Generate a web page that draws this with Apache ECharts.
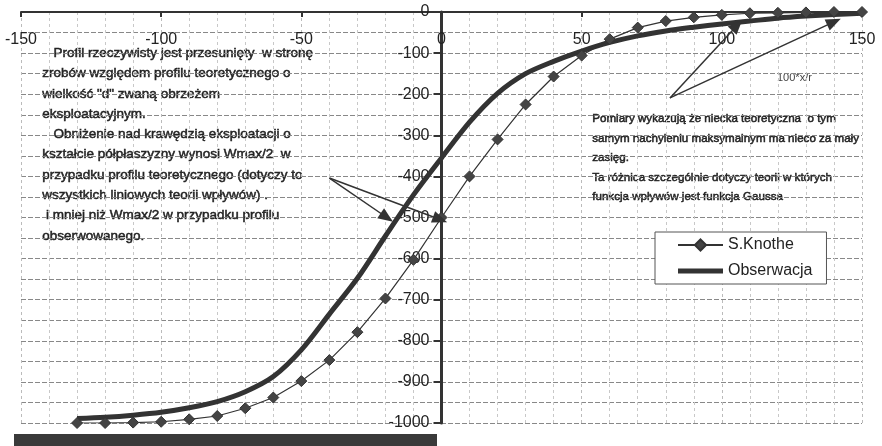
<!DOCTYPE html>
<html>
<head>
<meta charset="utf-8">
<script src="https://cdn.jsdelivr.net/npm/echarts@6/dist/echarts.min.js"></script>
<style>
html, body { margin: 0; padding: 0; background: #fff; }
#chart { width: 882px; height: 446px; }
</style>
</head>
<body>
<div id="chart"></div>
<script>
// x = 100*x/r
var xValues = [-130, -120, -110, -100, -90, -80, -70, -60, -50, -40, -30, -20, -10, 0,
  10, 20, 30, 40, 50, 60, 70, 80, 90, 100, 110, 120, 130, 140, 150]
var knotheValues = [-1000, -1000, -999, -997, -991, -983, -964, -938, -898, -847, -779, -697, -603, -500,
  -400, -310, -225, -157, -106, -66, -38, -22, -13, -7, -3, -2, -1, 0, 0]
var obsValues = [-989, -986, -981, -974, -963, -948, -924, -887, -822, -735, -648, -545, -445, -355,
  -268, -198, -150, -120, -95, -74, -58, -46, -37, -29, -22, -15, -10, -6, -3]

var seriesNames = ['S.Knothe', 'Obserwacja']

// arrows: [from, to] in data units
var arrows = [
  [[-40, -404], [-19.5, -500]],
  [[-40, -404], [-0.5, -505]],
  [[81.5, -209], [105.5, -32]],
  [[81.5, -209], [140, -24]]
]

var leftNote = [
  '   Profil rzeczywisty jest przesunięty  w stronę',
  'zrobów względem profilu teoretycznego o',
  'wielkość "d" zwaną obrzeżem',
  'eksploatacyjnym.',
  '   Obniżenie nad krawędzią eksploatacji o',
  'kształcie półpłaszyzny wynosi Wmax/2  w',
  'przypadku profilu teoretycznego (dotyczy to',
  'wszystkich liniowych teorii wpływów) .',
  ' i mniej niż Wmax/2 w przypadku profilu',
  'obserwowanego.'
]
var rightNote = [
  'Pomiary wykazują że niecka teoretyczna  o tym',
  'samym nachyleniu maksymalnym ma nieco za mały',
  'zasięg.',
  'Ta różnica szczególnie dotyczy teorii w których',
  'funkcja wpływów jest funkcja Gaussa'
]

function pairs(ys) {
  return xValues.map(function (x, i) { return [x, ys[i]] })
}

var chart = echarts.init(document.getElementById('chart'))

var graphics = [{
  type: 'rect',
  shape: { x: 14, y: 434, width: 423, height: 12 },
  style: { fill: '#3a3a3a' }
}, {
  type: 'text',
  left: 777,
  top: 72,
  style: { text: '100*x/r', fill: '#444', font: '11px "Liberation Sans", Arial, sans-serif' }
}]
leftNote.forEach(function (t, i) {
  graphics.push({
    type: 'text',
    left: 42,
    top: 46 + i * 20.3,
    style: {
      text: t, fill: '#222', stroke: '#222', lineWidth: 0.5,
      font: '13.5px "Liberation Sans", Arial, sans-serif'
    }
  })
})
rightNote.forEach(function (t, i) {
  graphics.push({
    type: 'text',
    left: 592,
    top: 113 + i * 19.5,
    style: {
      text: t, fill: '#222', stroke: '#222', lineWidth: 0.5,
      font: '11.6px "Liberation Sans", Arial, sans-serif'
    }
  })
})

var option = {
  animation: false,
  backgroundColor: '#fff',
  textStyle: { fontFamily: '"Liberation Sans", Arial, sans-serif' },
  grid: { left: 21, right: 20, top: 12, bottom: 23, containLabel: false, outerBoundsMode: 'none' },
  legend: {
    orient: 'vertical',
    left: 655,
    top: 232,
    padding: [5, 14, 5, 22],
    itemWidth: 45,
    itemHeight: 14,
    itemGap: 10,
    backgroundColor: '#fff',
    borderColor: '#555',
    borderWidth: 1,
    textStyle: { fontSize: 16, color: '#222' },
    data: [
      { name: seriesNames[0] },
      { name: seriesNames[1], icon: 'path://M0,0h45v5h-45z' }
    ]
  },
  xAxis: {
    type: 'value',
    position: 'top',
    min: -150,
    max: 150,
    interval: 50,
    axisLine: { onZero: false, lineStyle: { color: '#333', width: 2 } },
    axisTick: { inside: true, length: 5, lineStyle: { color: '#333', width: 2 } },
    axisLabel: { inside: true, margin: 20, fontSize: 16, color: '#222' },
    splitLine: { show: true, lineStyle: { color: '#bbb', type: [3, 3], width: 1 } },
    minorTick: { show: false, splitNumber: 5 },
    minorSplitLine: { show: true, lineStyle: { color: '#c8c8c8', type: [3, 3], width: 1 } }
  },
  yAxis: {
    type: 'value',
    position: 'left',
    offset: -420.5,
    min: -1000,
    max: 0,
    interval: 100,
    axisLine: { onZero: false, lineStyle: { color: '#333', width: 3 } },
    axisTick: { length: 8, lineStyle: { color: '#333', width: 2 } },
    axisLabel: {
      margin: 12, fontSize: 16, color: '#222',
      formatter: function (v) { return String(v) }
    },
    splitLine: { show: true, lineStyle: { color: '#888', type: [5, 2], width: 1 } },
    minorTick: { show: false, splitNumber: 2 },
    minorSplitLine: { show: true, lineStyle: { color: '#888', type: [5, 2], width: 1 } }
  },
  series: [{
    name: seriesNames[0],
    type: 'line',
    data: pairs(knotheValues),
    symbol: 'diamond',
    symbolSize: 11,
    showAllSymbol: true,
    itemStyle: { color: '#444', borderColor: '#333', borderWidth: 1 },
    lineStyle: { color: '#333', width: 1.2 },
    z: 3,
    markLine: {
      silent: true,
      symbol: ['none', 'triangle'],
      symbolSize: [12, 15],
      label: { show: false },
      lineStyle: { color: '#333', width: 1.5, type: 'solid' },
      data: arrows.map(function (a) {
        return [{ coord: a[0] }, { coord: a[1] }]
      })
    }
  }, {
    name: seriesNames[1],
    type: 'line',
    data: pairs(obsValues),
    smooth: 0.3,
    showSymbol: false,
    symbol: 'none',
    itemStyle: { color: '#333' },
    lineStyle: { color: '#333', width: 5 },
    z: 2
  }],
  graphic: graphics
}

chart.setOption(option)
</script>
</body>
</html>
